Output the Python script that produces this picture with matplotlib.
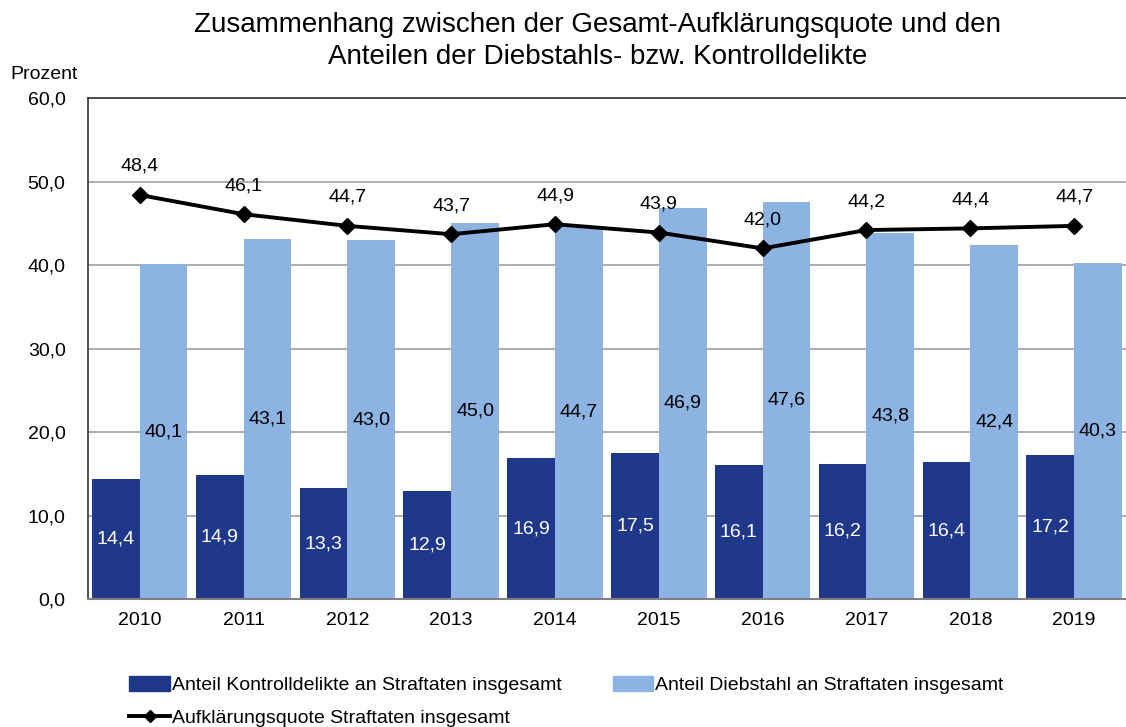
import matplotlib.pyplot as plt
import numpy as np
from matplotlib.lines import Line2D
from matplotlib.patches import Patch

plt.rcParams['font.family'] = ['Liberation Sans', 'DejaVu Sans']

jahre = ['2010', '2011', '2012', '2013', '2014', '2015', '2016', '2017', '2018', '2019']
kontroll = [14.4, 14.9, 13.3, 12.9, 16.9, 17.5, 16.1, 16.2, 16.4, 17.2]
diebstahl = [40.1, 43.1, 43.0, 45.0, 44.7, 46.9, 47.6, 43.8, 42.4, 40.3]
aufklaerung = [48.4, 46.1, 44.7, 43.7, 44.9, 43.9, 42.0, 44.2, 44.4, 44.7]

dunkel = '#203889'
hell = '#8DB3E2'

def fmt(v):
    return f'{v:.1f}'.replace('.', ',')

fig = plt.figure(figsize=(11.26, 7.27), dpi=100)
ax = fig.add_axes([0.078, 0.176, 0.922, 0.689])

x = np.arange(len(jahre))
w = 0.46
ax.bar(x - w / 2, kontroll, w, color=dunkel, zorder=2)
ax.bar(x + w / 2, diebstahl, w, color=hell, zorder=2)
ax.plot(x, aufklaerung, color='black', lw=2.8, marker='D', ms=8, zorder=4)

fs = 14
for i in range(len(jahre)):
    ax.text(x[i] - w / 2, kontroll[i] / 2, fmt(kontroll[i]), color='white',
            ha='center', va='center', fontsize=fs, zorder=5)
    ax.text(x[i] + w / 2, diebstahl[i] / 2, fmt(diebstahl[i]), color='black',
            ha='center', va='center', fontsize=fs, zorder=5)
    ax.text(x[i], aufklaerung[i] + 2.4, fmt(aufklaerung[i]), color='black',
            ha='center', va='bottom', fontsize=fs, zorder=5)

ax.set_xlim(-0.5, 9.5)
ax.set_ylim(0, 60)
ax.set_yticks(np.arange(0, 61, 10))
ax.set_yticklabels([fmt(v) for v in np.arange(0, 61, 10)], fontsize=fs)
ax.set_xticks(x)
ax.set_xticklabels(jahre, fontsize=fs)
ax.tick_params(axis='x', length=0, pad=9)
ax.tick_params(axis='y', length=0, pad=16)
ax.grid(axis='y', color='#a0a0a0', lw=1.2, zorder=0)
for s in ['left', 'top']:
    ax.spines[s].set_color('#333333')
    ax.spines[s].set_linewidth(1.2)
ax.spines['bottom'].set_color('#808080')
ax.spines['bottom'].set_linewidth(1.5)
ax.spines['right'].set_visible(False)

fig.text(0.531, 0.984, 'Zusammenhang zwischen der Gesamt-Aufklärungsquote und den\nAnteilen der Diebstahls- bzw. Kontrolldelikte',
         ha='center', va='top', fontsize=20, linespacing=1.3)
fig.text(0.009, 0.897, 'Prozent', fontsize=fs, ha='left', va='center')

handles = [Patch(color=dunkel),
           Line2D([], [], color='black', lw=2.8, marker='D', ms=6),
           Patch(color=hell)]
labels = ['Anteil Kontrolldelikte an Straftaten insgesamt',
          'Aufklärungsquote Straftaten insgesamt',
          'Anteil Diebstahl an Straftaten insgesamt']
fig.legend(handles, labels, ncol=2, loc='upper left', bbox_to_anchor=(0.115, 0.07),
           frameon=False, fontsize=fs, handlelength=2.1, handleheight=0.8,
           handletextpad=0.1, columnspacing=2.6, labelspacing=0.75, borderpad=0,
           borderaxespad=0)

fig.savefig('out.png', dpi=100)
